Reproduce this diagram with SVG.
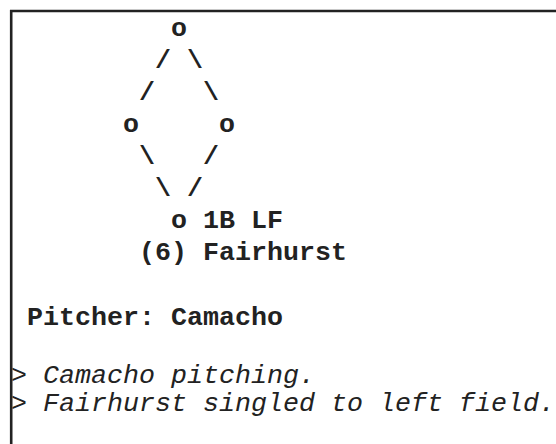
<svg xmlns="http://www.w3.org/2000/svg" width="556" height="444" viewBox="0 0 556 444">
<style>
.t{font-family:"Liberation Mono","Courier New",monospace;font-size:26.67px;fill:#222;}
.b{font-weight:bold;}
.i{font-style:italic;font-weight:normal;}
</style>
<rect width="556" height="444" fill="#fff"/>
<path d="M11.2,444 V11 H556" fill="none" stroke="#222" stroke-width="2.6"/>
<g id="diamond" class="t b">
<text x="171" y="36">o</text>
<text x="155" y="68">/</text>
<text x="187" y="68">\</text>
<text x="139" y="100">/</text>
<text x="203" y="100">\</text>
<text x="123" y="132">o</text>
<text x="219" y="132">o</text>
<text x="139" y="164">\</text>
<text x="203" y="164">/</text>
<text x="155" y="196">\</text>
<text x="187" y="196">/</text>
<text x="171" y="228">o 1B LF</text>
<text x="139" y="260">(6) Fairhurst</text>
</g>
<g id="pitcher" class="t b">
<text x="27" y="325">Pitcher: Camacho</text>
</g>
<g id="log" class="t i">
<text x="11" y="383">&gt; Camacho pitching.</text>
<text x="11" y="411">&gt; Fairhurst singled to left field.</text>
</g>
</svg>
